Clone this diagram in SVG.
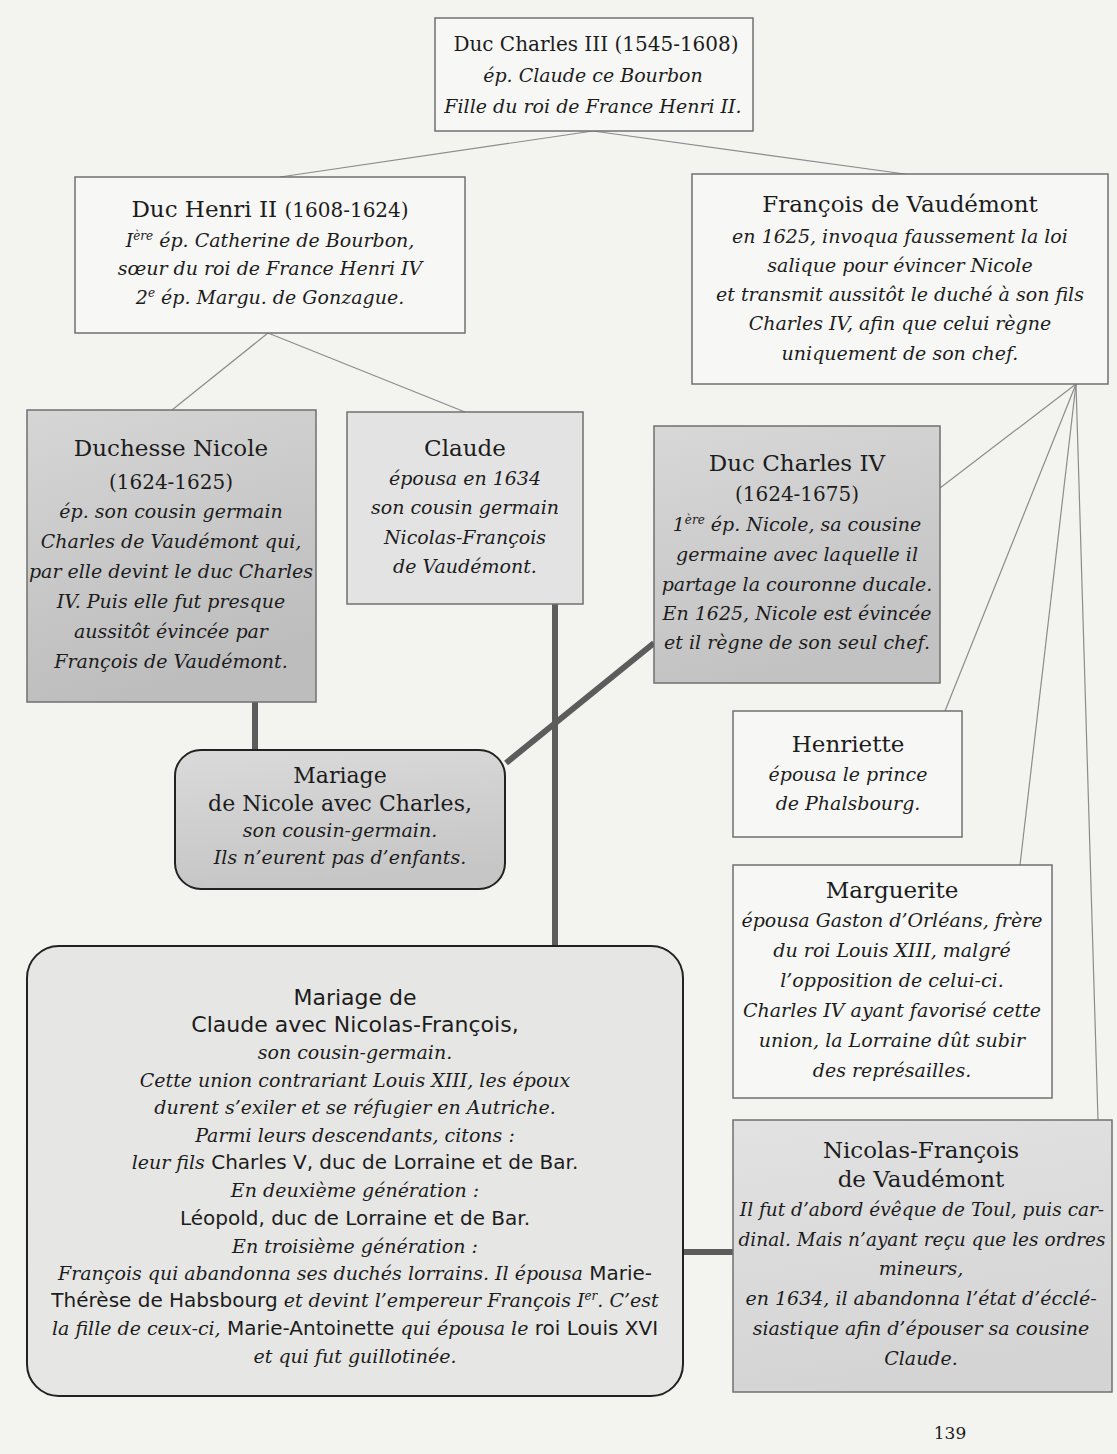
<svg xmlns="http://www.w3.org/2000/svg" width="1117" height="1454" viewBox="0 0 1117 1454">
<style>
.box{fill:#f7f7f5;stroke:#707070;stroke-width:1.5}
.g1{stroke:#707070;stroke-width:1.5}
.rnd{stroke:#222;stroke-width:2}
.thin{stroke:#8c8c8c;stroke-width:1.2;fill:none}
.thick{stroke:#5c5c5c;stroke-width:6;fill:none}
text{text-anchor:middle;fill:#1c1c1c}
.h{font-family:"DejaVu Serif",serif;font-size:23px}
.d{font-family:"DejaVu Serif",serif;font-size:20px}
.i{font-family:"DejaVu Serif",serif;font-style:italic;font-size:19px}
.s{font-family:"DejaVu Sans",sans-serif;font-size:22px}
.sr{font-family:"DejaVu Sans",sans-serif;font-style:normal;font-size:20px}
.sup{font-size:12px}
</style>
<defs>
<linearGradient id="gN" x1="0" y1="0" x2="0.3" y2="1"><stop offset="0" stop-color="#d6d6d6"/><stop offset="1" stop-color="#bdbdbd"/></linearGradient>
<linearGradient id="gC4" x1="0" y1="0" x2="0.3" y2="1"><stop offset="0" stop-color="#d8d8d8"/><stop offset="1" stop-color="#c2c2c2"/></linearGradient>
<linearGradient id="gMN" x1="0" y1="0" x2="0.2" y2="1"><stop offset="0" stop-color="#dadada"/><stop offset="1" stop-color="#c6c6c6"/></linearGradient>
<linearGradient id="gNF" x1="0" y1="0" x2="0.2" y2="1"><stop offset="0" stop-color="#e2e2e2"/><stop offset="1" stop-color="#d4d4d4"/></linearGradient>
</defs>
<rect x="0" y="0" width="1117" height="1454" fill="#f3f3f0"/>

<g id="connectors">
<line class="thin" x1="593" y1="131" x2="280" y2="177"/>
<line class="thin" x1="593" y1="131" x2="905" y2="174"/>
<line class="thin" x1="268" y1="333" x2="172" y2="410"/>
<line class="thin" x1="268" y1="333" x2="465" y2="412"/>
<line class="thin" x1="1076" y1="384" x2="940" y2="488"/>
<line class="thin" x1="1076" y1="384" x2="945" y2="711"/>
<line class="thin" x1="1076" y1="384" x2="1020" y2="865"/>
<line class="thin" x1="1076" y1="384" x2="1098" y2="1120"/>
<line class="thick" x1="255" y1="702" x2="255" y2="750"/>
<line class="thick" x1="654" y1="643" x2="506" y2="763"/>
<line class="thick" x1="555" y1="604" x2="555" y2="946"/>
<line class="thick" x1="683" y1="1252" x2="733" y2="1252"/>
</g>

<g id="charles3">
<rect class="box" x="435" y="18" width="318" height="113"/>
<text x="596" y="51" class="h" style="font-size:20px">Duc Charles III <tspan class="d" style="font-size:20px">(1545-1608)</tspan></text>
<text x="593" y="82" class="i">ép. Claude ce Bourbon</text>
<text x="593" y="113" class="i">Fille du roi de France Henri II.</text>
</g>

<g id="henri2">
<rect class="box" x="75" y="177" width="390" height="156"/>
<text x="270" y="217" class="h">Duc Henri II <tspan class="d">(1608-1624)</tspan></text>
<text x="270" y="247" class="i">I<tspan class="sup" dy="-7">ère</tspan><tspan dy="7"> ép. Catherine de Bourbon,</tspan></text>
<text x="270" y="275" class="i">sœur du roi de France Henri IV</text>
<text x="270" y="304" class="i">2<tspan class="sup" dy="-7">e</tspan><tspan dy="7"> ép. Margu. de Gonzague.</tspan></text>
</g>

<g id="francois">
<rect class="box" x="692" y="174" width="416" height="210"/>
<text x="900" y="212" class="h">François de Vaudémont</text>
<text x="900" y="243" class="i">en 1625, invoqua faussement la loi</text>
<text x="900" y="272" class="i">salique pour évincer Nicole</text>
<text x="900" y="301" class="i">et transmit aussitôt le duché à son fils</text>
<text x="900" y="330" class="i">Charles IV, afin que celui règne</text>
<text x="900" y="360" class="i">uniquement de son chef.</text>
</g>

<g id="nicole">
<rect class="g1" x="27" y="410" width="289" height="292" fill="url(#gN)"/>
<text x="171" y="456" class="h">Duchesse Nicole</text>
<text x="171" y="489" class="d">(1624-1625)</text>
<text x="171" y="518" class="i">ép. son cousin germain</text>
<text x="171" y="548" class="i">Charles de Vaudémont qui,</text>
<text x="171" y="578" class="i">par elle devint le duc Charles</text>
<text x="171" y="608" class="i">IV. Puis elle fut presque</text>
<text x="171" y="638" class="i">aussitôt évincée par</text>
<text x="171" y="668" class="i">François de Vaudémont.</text>
</g>

<g id="claude">
<rect class="g1" x="347" y="412" width="236" height="192" fill="#e3e3e3"/>
<text x="465" y="456" class="h">Claude</text>
<text x="465" y="485" class="i">épousa en 1634</text>
<text x="465" y="514" class="i">son cousin germain</text>
<text x="465" y="544" class="i">Nicolas-François</text>
<text x="465" y="573" class="i">de Vaudémont.</text>
</g>

<g id="charles4">
<rect class="g1" x="654" y="426" width="286" height="257" fill="url(#gC4)"/>
<text x="797" y="471" class="h">Duc Charles IV</text>
<text x="797" y="501" class="d">(1624-1675)</text>
<text x="797" y="531" class="i">1<tspan class="sup" dy="-7">ère</tspan><tspan dy="7"> ép. Nicole, sa cousine</tspan></text>
<text x="797" y="561" class="i">germaine avec laquelle il</text>
<text x="797" y="591" class="i">partage la couronne ducale.</text>
<text x="797" y="620" class="i">En 1625, Nicole est évincée</text>
<text x="797" y="649" class="i">et il règne de son seul chef.</text>
</g>

<g id="mariage-nicole">
<rect class="rnd" x="175" y="750" width="330" height="139" rx="26" fill="url(#gMN)"/>
<text x="340" y="783" class="h" style="font-size:22px">Mariage</text>
<text x="340" y="811" class="h" style="font-size:22px">de Nicole avec Charles,</text>
<text x="340" y="837" class="i">son cousin-germain.</text>
<text x="340" y="864" class="i">Ils n’eurent pas d’enfants.</text>
</g>

<g id="henriette">
<rect class="box" x="733" y="711" width="229" height="126"/>
<text x="848" y="752" class="h">Henriette</text>
<text x="848" y="781" class="i">épousa le prince</text>
<text x="848" y="810" class="i">de Phalsbourg.</text>
</g>

<g id="marguerite">
<rect class="box" x="733" y="865" width="319" height="233"/>
<text x="892" y="898" class="h">Marguerite</text>
<text x="892" y="927" class="i">épousa Gaston d’Orléans, frère</text>
<text x="892" y="957" class="i">du roi Louis XIII, malgré</text>
<text x="892" y="987" class="i">l’opposition de celui-ci.</text>
<text x="892" y="1017" class="i">Charles IV ayant favorisé cette</text>
<text x="892" y="1047" class="i">union, la Lorraine dût subir</text>
<text x="892" y="1077" class="i">des représailles.</text>
</g>

<g id="nicolas-francois">
<rect class="g1" x="733" y="1120" width="379" height="272" fill="url(#gNF)"/>
<text x="921" y="1158" class="h">Nicolas-François</text>
<text x="921" y="1187" class="h">de Vaudémont</text>
<text x="922" y="1216" class="i" style="font-size:18.5px">Il fut d’abord évêque de Toul, puis car-</text>
<text x="922" y="1246" class="i" style="font-size:18.5px">dinal. Mais n’ayant reçu que les ordres</text>
<text x="921" y="1275" class="i">mineurs,</text>
<text x="921" y="1305" class="i">en 1634, il abandonna l’état d’écclé-</text>
<text x="921" y="1335" class="i">siastique afin d’épouser sa cousine</text>
<text x="921" y="1365" class="i">Claude.</text>
</g>

<g id="mariage-claude">
<rect class="rnd" x="27" y="946" width="656" height="450" rx="32" fill="#e6e6e4"/>
<text x="355" y="1005" class="s">Mariage de</text>
<text x="355" y="1032" class="s">Claude avec Nicolas-François,</text>
<text x="355" y="1059" class="i">son cousin-germain.</text>
<text x="355" y="1087" class="i">Cette union contrariant Louis XIII, les époux</text>
<text x="355" y="1114" class="i">durent s’exiler et se réfugier en Autriche.</text>
<text x="355" y="1142" class="i">Parmi leurs descendants, citons :</text>
<text x="355" y="1169" class="i">leur fils<tspan class="sr"> Charles V, duc de Lorraine et de Bar.</tspan></text>
<text x="355" y="1197" class="i">En deuxième génération :</text>
<text x="355" y="1225" class="sr">Léopold, duc de Lorraine et de Bar.</text>
<text x="355" y="1253" class="i">En troisième génération :</text>
<text x="355" y="1280" class="i">François qui abandonna ses duchés lorrains. Il épousa<tspan class="sr"> Marie-</tspan></text>
<text x="355" y="1307" class="i"><tspan class="sr">Thérèse de Habsbourg</tspan> et devint l’empereur François I<tspan class="sup" dy="-7">er</tspan><tspan dy="7">. C’est</tspan></text>
<text x="355" y="1335" class="i">la fille de ceux-ci,<tspan class="sr"> Marie-Antoinette</tspan> qui épousa le<tspan class="sr"> roi Louis XVI</tspan></text>
<text x="355" y="1363" class="i">et qui fut guillotinée.</text>
</g>

<text x="950" y="1439" class="d" style="font-size:17px">139</text>
</svg>
